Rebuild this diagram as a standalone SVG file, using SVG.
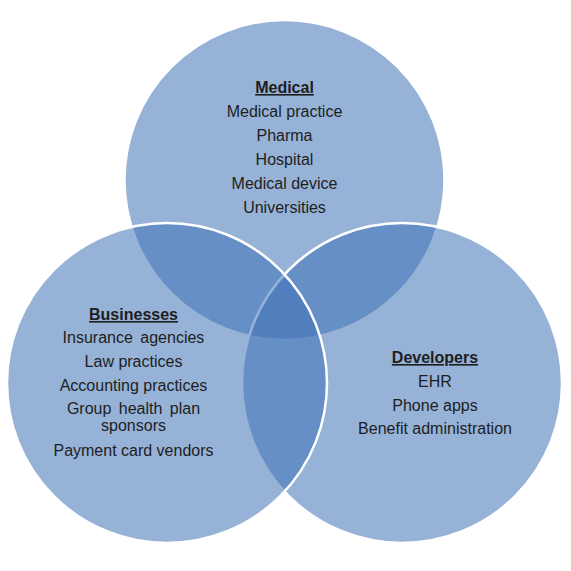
<svg xmlns="http://www.w3.org/2000/svg" width="571" height="571" viewBox="0 0 571 571">
<style>
.c{fill:#4073B6;fill-opacity:0.55;stroke:#ffffff;stroke-width:2.5}
text{font-family:"Liberation Sans",Arial,sans-serif;font-size:16px;fill:#1e1e1e;text-anchor:middle}
.h{font-weight:bold;text-decoration:underline}
</style>
<rect width="571" height="571" fill="#ffffff"/>
<g id="medical">
<circle class="c" cx="284.5" cy="180" r="160"/>
<text class="h" x="284.5" y="93">Medical</text>
<text x="284.5" y="117">Medical practice</text>
<text x="284.5" y="141">Pharma</text>
<text x="284.5" y="165">Hospital</text>
<text x="284.5" y="189">Medical device</text>
<text x="284.5" y="213">Universities</text>
</g>
<g id="developers">
<circle class="c" cx="402" cy="383" r="160"/>
<text class="h" x="435" y="363">Developers</text>
<text x="435" y="387">EHR</text>
<text x="435" y="411">Phone apps</text>
<text x="435" y="434">Benefit administration</text>
</g>
<g id="businesses">
<circle class="c" cx="167" cy="383" r="160"/>
<text class="h" x="133.5" y="320">Businesses</text>
<text x="133.5" y="343" word-spacing="3">Insurance agencies</text>
<text x="133.5" y="367">Law practices</text>
<text x="133.5" y="391">Accounting practices</text>
<text x="133.5" y="414" word-spacing="3">Group health plan</text>
<text x="133.5" y="431">sponsors</text>
<text x="133.5" y="456">Payment card vendors</text>
</g>
<g id="connectors"></g>
</svg>
